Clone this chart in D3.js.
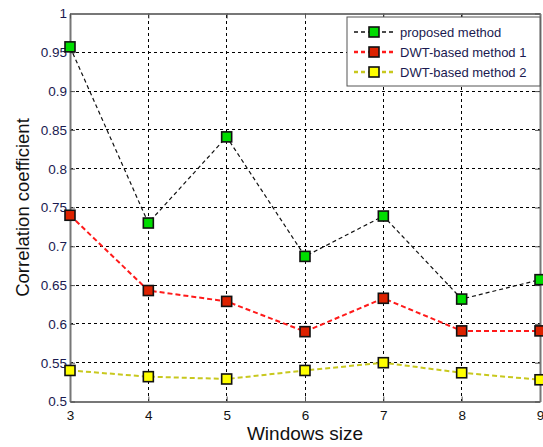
<!DOCTYPE html>
<html><head><meta charset="utf-8">
<script src="https://cdn.jsdelivr.net/npm/d3@7/dist/d3.min.js"></script>
<style>body{margin:0;background:#fff;overflow:hidden}svg{display:block}</style>
</head><body>
<script>
const windows = [3,4,5,6,7,8,9];
const proposed = [0.957,0.730,0.841,0.687,0.739,0.632,0.657];
const dwt1 = [0.740,0.643,0.629,0.590,0.633,0.591,0.591];
const dwt2 = [0.540,0.532,0.529,0.540,0.550,0.537,0.528];
const yTicks = [0.5,0.55,0.6,0.65,0.7,0.75,0.8,0.85,0.9,0.95,1];
const seriesNames = ["proposed method","DWT-based method 1","DWT-based method 2"];

const W=543,H=447;
const m={l:70,r:3,t:13.5,b:45.5};
const svg=d3.select("body").append("svg").attr("width",W).attr("height",H);
const x=d3.scaleLinear().domain([3,9]).range([m.l,W-m.r]);
const y=d3.scaleLinear().domain([0.5,1]).range([H-m.b,m.t]);
const x0=m.l,x1=W-m.r,y0=H-m.b,y1=m.t;

// grid
const g=svg.append("g");
g.selectAll(".gx").data(windows.slice(1,-1)).enter().append("line")
 .attr("x1",d=>x(d)).attr("x2",d=>x(d)).attr("y1",y0).attr("y2",y1)
 .attr("stroke","#000").attr("stroke-width",1).attr("stroke-dasharray","3,3").attr("shape-rendering","crispEdges");
g.selectAll(".gy").data(yTicks.slice(1,-1)).enter().append("line")
 .attr("x1",x0).attr("x2",x1).attr("y1",d=>y(d)).attr("y2",d=>y(d))
 .attr("stroke","#000").attr("stroke-width",1).attr("stroke-dasharray","3,3").attr("shape-rendering","crispEdges");

// axes
const fmt=d=>String(+d.toFixed(2));
const ax=svg.append("g").attr("transform",`translate(0,${y0})`)
 .call(d3.axisBottom(x).tickValues(windows).tickFormat(d3.format("d")).tickSizeInner(-5).tickSizeOuter(0).tickPadding(9));
const ay=svg.append("g").attr("transform",`translate(${x0},0)`)
 .call(d3.axisLeft(y).tickValues(yTicks).tickFormat(fmt).tickSizeInner(-5).tickSizeOuter(0).tickPadding(3));
const at=svg.append("g").attr("transform",`translate(0,${y1})`)
 .call(d3.axisTop(x).tickValues(windows).tickFormat("").tickSizeInner(-5).tickSizeOuter(0));
const ar=svg.append("g").attr("transform",`translate(${x1},0)`)
 .call(d3.axisRight(y).tickValues(yTicks).tickFormat("").tickSizeInner(-5).tickSizeOuter(0));
[ax,ay,at,ar].forEach(a=>{
 a.select(".domain").attr("stroke","#777").attr("stroke-width",2);
 a.selectAll(".tick line").attr("stroke","#555");
 a.selectAll("text").attr("font-family","Liberation Sans, Arial, sans-serif").attr("font-size",13.5).attr("fill","#1a1a50");
});
ax.selectAll("text").attr("fill","#111");

// series
const series=[
 {name:seriesNames[0],vals:proposed,line:"#111",lw:1.2,dash:"4,3",fill:"#00dd00"},
 {name:seriesNames[1],vals:dwt1,line:"#ff1a1a",lw:2,dash:"5,3",fill:"#dd2200"},
 {name:seriesNames[2],vals:dwt2,line:"#c8c81e",lw:2,dash:"5,3",fill:"#ffff00"}
];
const line=d3.line().x((d,i)=>x(windows[i])).y(d=>y(d));
series.forEach(s=>{
 svg.append("path").attr("d",line(s.vals)).attr("fill","none").attr("stroke",s.line)
  .attr("stroke-width",s.lw).attr("stroke-dasharray",s.dash);
 svg.selectAll(null).data(s.vals).enter().append("rect")
  .attr("x",(d,i)=>x(windows[i])-5).attr("y",d=>y(d)-5).attr("width",10).attr("height",10)
  .attr("fill",s.fill).attr("stroke","#111").attr("stroke-width",1.6);
});

// legend
const lg=svg.append("g");
lg.append("rect").attr("x",347).attr("y",17).attr("width",W-m.r-347).attr("height",69)
 .attr("fill","#fff").attr("stroke","#555").attr("stroke-width",1);
series.forEach((s,i)=>{
 const yy=32+i*20;
 lg.append("line").attr("x1",354).attr("x2",393).attr("y1",yy).attr("y2",yy)
  .attr("stroke",s.line).attr("stroke-width",s.lw+0.3).attr("stroke-dasharray","4,3");
 lg.append("rect").attr("x",369).attr("y",yy-5).attr("width",10).attr("height",10)
  .attr("fill",s.fill).attr("stroke","#111").attr("stroke-width",1.6);
 lg.append("text").attr("x",400).attr("y",yy+4.5).text(s.name)
  .attr("font-family","Liberation Sans, Arial, sans-serif").attr("font-size",13).attr("fill","#1a1a50");
});

// labels
svg.append("text").attr("x",(x0+x1)/2).attr("y",440).attr("text-anchor","middle")
 .attr("font-family","Liberation Sans, Arial, sans-serif").attr("font-size",19).attr("fill","#111").text("Windows size");
svg.append("text").attr("transform",`translate(29,${(y0+y1)/2}) rotate(-90)`).attr("text-anchor","middle")
 .attr("font-family","Liberation Sans, Arial, sans-serif").attr("font-size",18.5).attr("fill","#111").text("Correlation coefficient");
</script>
</body></html>
